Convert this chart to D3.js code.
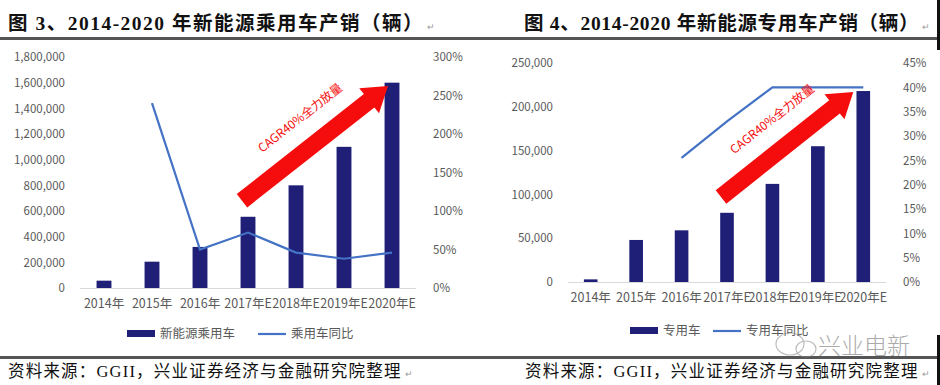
<!DOCTYPE html>
<html>
<head>
<meta charset="utf-8">
<script src="https://cdn.jsdelivr.net/npm/d3@7"></script>
<style>
  body { margin: 0; background: #fff; }
  svg { display: block; }
  .tick text { fill: #595959; font-family: "Noto Sans CJK SC", sans-serif; font-size: 11.5px; }
  .xaxis .tick text { font-size: 12.5px; }
</style>
</head>
<body>
<div id="chart"></div>
<script>
// ---- data ----
var years = ['2014年', '2015年', '2016年', '2017年E', '2018年E', '2019年E', '2020年E'];

// 新能源乘用车 (辆) and 同比
var passengerSales = [57000, 205000, 320000, 555000, 800000, 1100000, 1600000];
var passengerYoY   = [null, 2.40, 0.50, 0.72, 0.46, 0.38, 0.46];

// 新能源专用车 (辆) and 同比
var specialSales = [3000, 48000, 59000, 79000, 112000, 155000, 218000];
var specialYoY   = [null, null, 0.255, 0.33, 0.40, 0.40, 0.40];

var leftTicks  = [0, 200000, 400000, 600000, 800000, 1000000, 1200000, 1400000, 1600000, 1800000];
var leftPct    = [0, 0.5, 1, 1.5, 2, 2.5, 3];
var rightTicks = [0, 50000, 100000, 150000, 200000, 250000];
var rightPct   = [0, 0.05, 0.1, 0.15, 0.2, 0.25, 0.3, 0.35, 0.4, 0.45];

var width = 940, height = 385;
var barColor = '#1f1f78', lineColor = '#4472c4', arrowColor = '#f50d0d';

var svg = d3.select('#chart')
            .append('svg')
            .attr('width', width)
            .attr('height', height);

// title rules and source rule
svg.append('rect').attr('x', 0).attr('y', 37).attr('width', width).attr('height', 3).style('fill', '#555');
svg.append('rect').attr('x', 0).attr('y', 356).attr('width', width).attr('height', 3).style('fill', '#555');
svg.append('rect').attr('x', 937).attr('y', 0).attr('width', 3).attr('height', 50).style('fill', '#111');
svg.append('rect').attr('x', 937).attr('y', 335).attr('width', 3).attr('height', 50).style('fill', '#111');

function heading(x, y, str, ls) {
    var t = svg.append('text')
        .attr('x', x).attr('y', y)
        .style('font-family', '"Liberation Serif", "Noto Sans CJK SC", serif')
        .style('font-weight', 'bold')
        .style('font-size', '19.5px')
        .style('letter-spacing', ls + 'px')
        .style('fill', '#111')
        .text(str);
    var w = t.node().getComputedTextLength();
    svg.append('text').attr('x', x + w + 3).attr('y', y).style('font-size', '9px').style('fill', '#999').text('↵');
}
heading(8, 30, '图 3、2014-2020 年新能源乘用车产销（辆）', 1.5);
heading(524, 30, '图 4、2014-2020 年新能源专用车产销（辆）', 0.7);

function source(x, y) {
    var t = svg.append('text')
        .attr('x', x).attr('y', y)
        .style('font-family', '"Liberation Serif", "Noto Sans CJK SC", serif')
        .style('font-size', '16.5px')
        .style('letter-spacing', '1.2px')
        .style('fill', '#111')
        .text('资料来源：GGII，兴业证券经济与金融研究院整理');
    var w = t.node().getComputedTextLength();
    svg.append('text').attr('x', Math.min(x + w + 3, 925)).attr('y', y).style('font-size', '9px').style('fill', '#999').text('↵');
}
source(8, 377);
source(525, 377);

function drawPanel(o) {
    var g = svg.append('g');

    var x = d3.scaleBand().domain(years).range(o.xRange);
    var y = d3.scaleLinear().domain([0, o.yMax]).range([o.y0, o.y1]);
    var yR = d3.scaleLinear().domain([0, o.pMax]).range([o.y0, o.y1]);
    var barW = x.bandwidth() * o.barFrac;
    var cx = function(d) { return x(d) + x.bandwidth() / 2; };

    // axes
    g.append('g')
        .attr('transform', `translate(${o.xRange[0] - 12},0)`)
        .call(d3.axisLeft(y).tickValues(o.ticks).tickSize(0).tickFormat(d3.format(',')))
        .call(function(a) { a.select('.domain').remove(); });

    g.append('g')
        .attr('transform', `translate(${o.xRange[1] + 14},0)`)
        .call(d3.axisRight(yR).tickValues(o.pTicks).tickSize(0).tickFormat(d3.format('.0%')))
        .call(function(a) { a.select('.domain').remove(); a.selectAll('text').attr('dx', 0); });

    g.append('line')
        .attr('x1', o.xRange[0]).attr('x2', o.xRange[1])
        .attr('y1', o.y0 + 0.5).attr('y2', o.y0 + 0.5)
        .style('stroke', '#d9d9d9');

    g.append('g')
        .attr('class', 'xaxis')
        .attr('transform', `translate(0,${o.y0 + 4})`)
        .call(d3.axisBottom(x).tickSize(0).tickPadding(7))
        .call(function(a) { a.select('.domain').remove(); });

    // bars
    g.selectAll('.bar')
        .data(o.sales)
        .enter()
        .append('rect')
        .attr('class', 'bar')
        .attr('x', function(d, i) { return cx(years[i]) - barW / 2; })
        .attr('y', function(d) { return y(d); })
        .attr('width', barW)
        .attr('height', function(d) { return o.y0 - y(d); })
        .style('fill', barColor);

    // yoy line
    var pts = o.yoy.map(function(d, i) { return [years[i], d]; }).filter(function(p) { return p[1] != null; });
    g.append('path')
        .datum(pts)
        .attr('d', d3.line().x(function(p) { return cx(p[0]); }).y(function(p) { return yR(p[1]); }))
        .style('fill', 'none')
        .style('stroke', lineColor)
        .style('stroke-width', 2.2);

    // red arrow annotation
    var a0 = [cx(o.arrowFrom[0]) + o.arrowFrom[1], y(o.arrowFrom[2])];
    var a1 = [cx(o.arrowTo[0]) + o.arrowTo[1], y(o.arrowTo[2])];
    var dx = a1[0] - a0[0], dy = a1[1] - a0[1];
    var len = Math.sqrt(dx * dx + dy * dy);
    var ux = dx / len, uy = dy / len, px = -uy, py = ux;
    var sw = 8.5, hw = 16, hl = 24;
    var hb = [a1[0] - ux * hl, a1[1] - uy * hl];
    var poly = [
        [a0[0] + px * sw, a0[1] + py * sw],
        [hb[0] + px * sw, hb[1] + py * sw],
        [hb[0] + px * hw, hb[1] + py * hw],
        a1,
        [hb[0] - px * hw, hb[1] - py * hw],
        [hb[0] - px * sw, hb[1] - py * sw],
        [a0[0] - px * sw, a0[1] - py * sw]
    ];
    g.append('path')
        .attr('d', 'M' + poly.join('L') + 'Z')
        .style('fill', arrowColor);

    var ang = Math.atan2(dy, dx) * 180 / Math.PI;
    var mx = (a0[0] + a1[0]) / 2 - px * 25 + ux * 4, my = (a0[1] + a1[1]) / 2 - py * 25 + uy * 4;
    g.append('text')
        .attr('transform', `translate(${mx},${my}) rotate(${ang})`)
        .attr('text-anchor', 'middle')
        .style('font-family', '"Liberation Sans Narrow", "Noto Sans CJK SC", sans-serif')
        .style('font-size', '12px')
        .style('fill', arrowColor)
        .text('CAGR40%全力放量');

    // legend
    var lg = g.append('g').attr('transform', `translate(${o.legendX},${o.legendY})`)
        .style('font-family', '"Noto Sans CJK SC", sans-serif')
        .style('font-size', '12.5px')
        .style('fill', '#595959');
    lg.append('rect').attr('x', 0).attr('y', -4).attr('width', 28).attr('height', 7).style('fill', barColor);
    lg.append('text').attr('x', 33).attr('y', 4).text(o.names[0]);
    lg.append('line').attr('x1', o.legendGap).attr('x2', o.legendGap + 28).attr('y1', 0).attr('y2', 0)
        .style('stroke', lineColor).style('stroke-width', 2.2);
    lg.append('text').attr('x', o.legendGap + 33).attr('y', 4).text(o.names[1]);
}

drawPanel({
    xRange: [80, 416], y0: 288, y1: 57,
    yMax: 1800000, pMax: 3, ticks: leftTicks, pTicks: leftPct,
    sales: passengerSales, yoy: passengerYoY, barFrac: 0.31,
    arrowFrom: ['2017年E', -6, 680000], arrowTo: ['2020年E', -4, 1575000],
    names: ['新能源乘用车', '乘用车同比'], legendX: 127, legendY: 334, legendGap: 131
});

drawPanel({
    xRange: [568, 886], y0: 282, y1: 63,
    yMax: 250000, pMax: 0.45, ticks: rightTicks, pTicks: rightPct,
    sales: specialSales, yoy: specialYoY, barFrac: 0.3,
    arrowFrom: ['2017年E', -6, 97000], arrowTo: ['2020年E', -10, 217000],
    names: ['专用车', '专用车同比'], legendX: 630, legendY: 331, legendGap: 83
});

// watermark
var wm = svg.append('g').style('opacity', 0.55);
wm.append('ellipse').attr('cx', 790).attr('cy', 344).attr('rx', 14).attr('ry', 11)
    .style('fill', 'none').style('stroke', '#888').style('stroke-width', 1.2);
wm.append('ellipse').attr('cx', 806).attr('cy', 349).attr('rx', 10).attr('ry', 8)
    .style('fill', 'none').style('stroke', '#888').style('stroke-width', 1.2);
wm.append('text').attr('x', 818).attr('y', 354)
    .style('font-family', '"Noto Sans CJK SC", sans-serif')
    .style('font-size', '23px').style('font-weight', 300)
    .style('fill', '#666')
    .text('兴业电新');
</script>
</body>
</html>
